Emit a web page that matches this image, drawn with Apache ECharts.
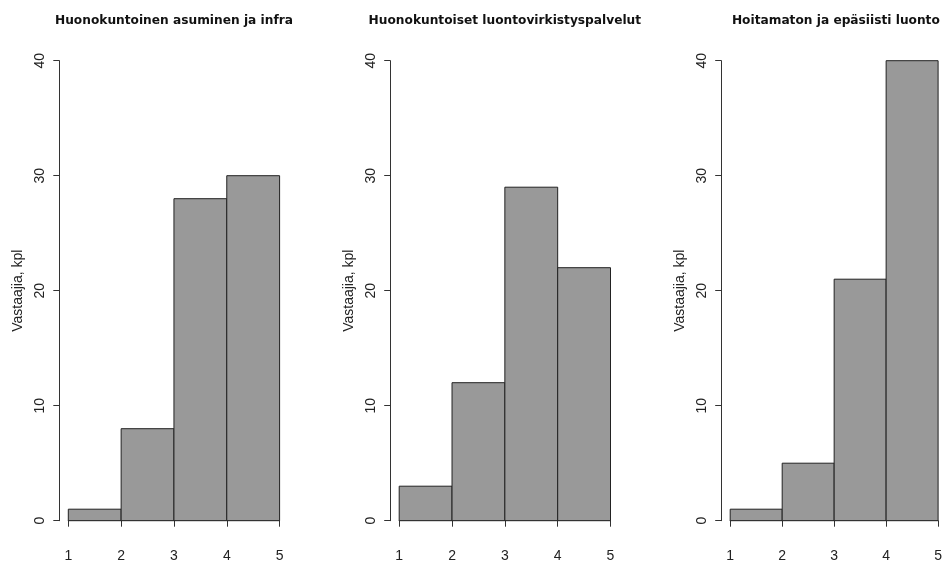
<!DOCTYPE html>
<html>
<head>
<meta charset="utf-8">
<script src="https://cdn.jsdelivr.net/npm/echarts@6/dist/echarts.min.js"></script>
<style>
html,body{margin:0;padding:0;background:#fff;}
#chart{width:945px;height:563px;}
</style>
</head>
<body>
<div id="chart"></div>
<script>
// Data
var titles = [
  'Huonokuntoinen asuminen ja infra',
  'Huonokuntoiset luontovirkistyspalvelut',
  'Hoitamaton ja epäsiisti luonto'
];
var breaks = [1, 2, 3, 4, 5];
var counts1 = [1, 8, 28, 30];
var counts2 = [3, 12, 29, 22];
var counts3 = [1, 5, 21, 40];
var yTicks = [0, 10, 20, 30, 40];
var yName = 'Vastaajia, kpl';

var allCounts = [counts1, counts2, counts3];
var panelLeft = [68.3, 399.2, 730.2];
var plotW = 211.3;
var plotTop = 60.7;
var plotH = 460;

var font = 'Liberation Sans, Arial, sans-serif';
var axisColor = '#333';
var textColor = '#222';

var grids = [], xAxes = [], yAxes = [], series = [], titleComps = [];
allCounts.forEach(function (counts, i) {
  grids.push({left: panelLeft[i], width: plotW, top: plotTop, height: plotH});
  xAxes.push({
    type: 'value', gridIndex: i, min: breaks[0], max: breaks[breaks.length - 1], interval: 1,
    offset: 20,
    axisLine: {show: true, lineStyle: {color: axisColor, width: 1}},
    axisTick: {show: true, length: 6, lineStyle: {color: axisColor}},
    axisLabel: {color: textColor, fontFamily: font, fontSize: 14, margin: 8},
    splitLine: {show: false}
  });
  yAxes.push({
    type: 'value', gridIndex: i, min: yTicks[0], max: yTicks[yTicks.length - 1], interval: 10,
    offset: 9,
    name: yName, nameLocation: 'middle', nameGap: 34, nameRotate: 90,
    nameTextStyle: {color: textColor, fontFamily: font, fontSize: 14},
    axisLine: {show: true, lineStyle: {color: axisColor, width: 1}},
    axisTick: {show: true, length: 6, lineStyle: {color: axisColor}},
    axisLabel: {color: textColor, fontFamily: font, fontSize: 14, rotate: 90, margin: 12},
    splitLine: {show: false}
  });
  var data = counts.map(function (c, k) { return [breaks[k], breaks[k + 1], c]; });
  series.push({
    type: 'custom', xAxisIndex: i, yAxisIndex: i, data: data,
    renderItem: function (params, api) {
      var p0 = api.coord([api.value(0), api.value(2)]);
      var p1 = api.coord([api.value(1), 0]);
      return {
        type: 'rect',
        shape: {x: p0[0], y: p0[1], width: p1[0] - p0[0], height: p1[1] - p0[1]},
        style: {fill: '#999999', stroke: '#222', lineWidth: 1}
      };
    },
    encode: {x: [0, 1], y: 2}
  });
  titleComps.push({
    text: titles[i], left: panelLeft[i] + plotW / 2, top: 15, textAlign: 'center', padding: 0,
    textStyle: {fontFamily: 'DejaVu Sans, sans-serif', fontWeight: 'bold', fontSize: 12.2, color: '#111'}
  });
});

var chart = echarts.init(document.getElementById('chart'), null, {renderer: 'canvas'});
chart.setOption({
  animation: false,
  title: titleComps,
  grid: grids,
  xAxis: xAxes,
  yAxis: yAxes,
  series: series
});
</script>
</body>
</html>
